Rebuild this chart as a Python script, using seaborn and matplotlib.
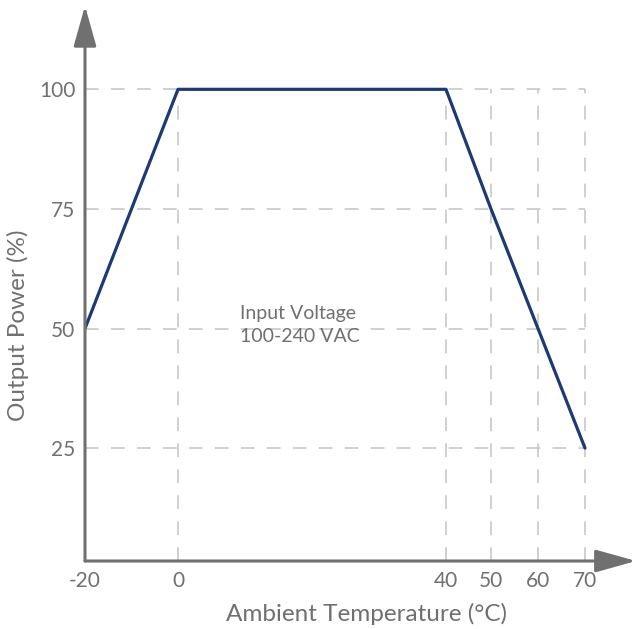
import numpy as np
import matplotlib
matplotlib.use("Agg")
import matplotlib.pyplot as plt
import seaborn as sns
import pandas as pd

# ---- data ----
temps = [-20, 0, 40, 50, 60, 70]
power = [50, 100, 100, 75, 50, 25]
x_ticks = [-20, 0, 40, 50, 60, 70]
y_ticks = [25, 50, 75, 100]
x_label = "Ambient Temperature (°C)"
y_label = "Output Power (%)"
note = "Input Voltage\n100-240 VAC"

# ---- layout (non-uniform axis spacing, in pixels from the y-axis) ----
knot_vals = np.array([-20, 0, 40, 50, 60, 70], dtype=float)
knot_px = np.array([0, 93, 361, 406, 453, 500], dtype=float)
end_px = 551.0

def _slopes():
    lo = (knot_px[1] - knot_px[0]) / (knot_vals[1] - knot_vals[0])
    hi = (knot_px[-1] - knot_px[-2]) / (knot_vals[-1] - knot_vals[-2])
    return lo, hi

def fwd(x):
    x = np.asarray(x, dtype=float)
    lo, hi = _slopes()
    y = np.interp(x, knot_vals, knot_px)
    y = np.where(x < knot_vals[0], knot_px[0] + (x - knot_vals[0]) * lo, y)
    y = np.where(x > knot_vals[-1], knot_px[-1] + (x - knot_vals[-1]) * hi, y)
    return y

def inv(p):
    p = np.asarray(p, dtype=float)
    lo, hi = _slopes()
    x = np.interp(p, knot_px, knot_vals)
    x = np.where(p < knot_px[0], knot_vals[0] + (p - knot_px[0]) / lo, x)
    x = np.where(p > knot_px[-1], knot_vals[-1] + (p - knot_px[-1]) / hi, x)
    return x

sns.set_theme(style="white")
plt.rcParams['font.family'] = ['Lato', 'DejaVu Sans']

gray = "#707070"
grid_c = "#c4c4c4"
line_c = "#1d3a72"

fig = plt.figure(figsize=(6.4, 6.29), dpi=100)
W, H = 640, 629
ax = fig.add_axes([85 / W, (H - 561) / H, (636 - 85) / W, (561 - 8) / H])
ax.set_xscale('function', functions=(fwd, inv))
ax.set_xlim(-20, float(inv(end_px)))
ax.set_ylim(1.4, 117)

for s in ax.spines.values():
    s.set_visible(False)

# grid
ax.hlines(y_ticks, -20, 70, colors=grid_c, linestyles=(0, (9, 8)), linewidth=1.1, zorder=1)
ax.vlines(x_ticks[1:], 1.4, 100, colors=grid_c, linestyles=(0, (9, 8)), linewidth=1.1, zorder=1)

df = pd.DataFrame({"t": temps, "p": power})
sns.lineplot(data=df, x="t", y="p", color=line_c, linewidth=2.3, ax=ax, zorder=3)

# axes arrows
arrow_kw = dict(arrowstyle="-|>,head_length=25,head_width=7", color=gray, lw=2.2,
                shrinkA=0, shrinkB=0, mutation_scale=1)
ax.annotate("", xy=(0, 1.004), xytext=(0, 0), xycoords='axes fraction',
            arrowprops=arrow_kw, annotation_clip=False, zorder=4)
ax.annotate("", xy=(1, 0), xytext=(0, 0), xycoords='axes fraction',
            arrowprops=arrow_kw, annotation_clip=False, zorder=4)

ax.set_xticks(x_ticks)
ax.set_xticklabels([str(v) for v in x_ticks])
ax.set_yticks(y_ticks)
ax.set_yticklabels([str(v) for v in y_ticks])
ax.tick_params(axis='both', length=0, labelsize=15, labelcolor=gray)
ax.tick_params(axis='y', pad=7)
ax.tick_params(axis='x', pad=7)

ax.set_xlabel(x_label, fontsize=17.5, color=gray, va='center')
ax.set_ylabel(y_label, fontsize=17.5, color=gray, va='center')
ax.xaxis.set_label_coords((366 - 85) / 551, -(614 - 561) / 553)
ax.yaxis.set_label_coords(-(85 - 18) / 551, (561 - 325) / 553)

ax.text((240 - 85) / 551, (561 - 325) / 553, note, transform=ax.transAxes,
        fontsize=14, color=gray, ha='left', va='center', linespacing=1.45)

fig.savefig("out.png", dpi=100)
